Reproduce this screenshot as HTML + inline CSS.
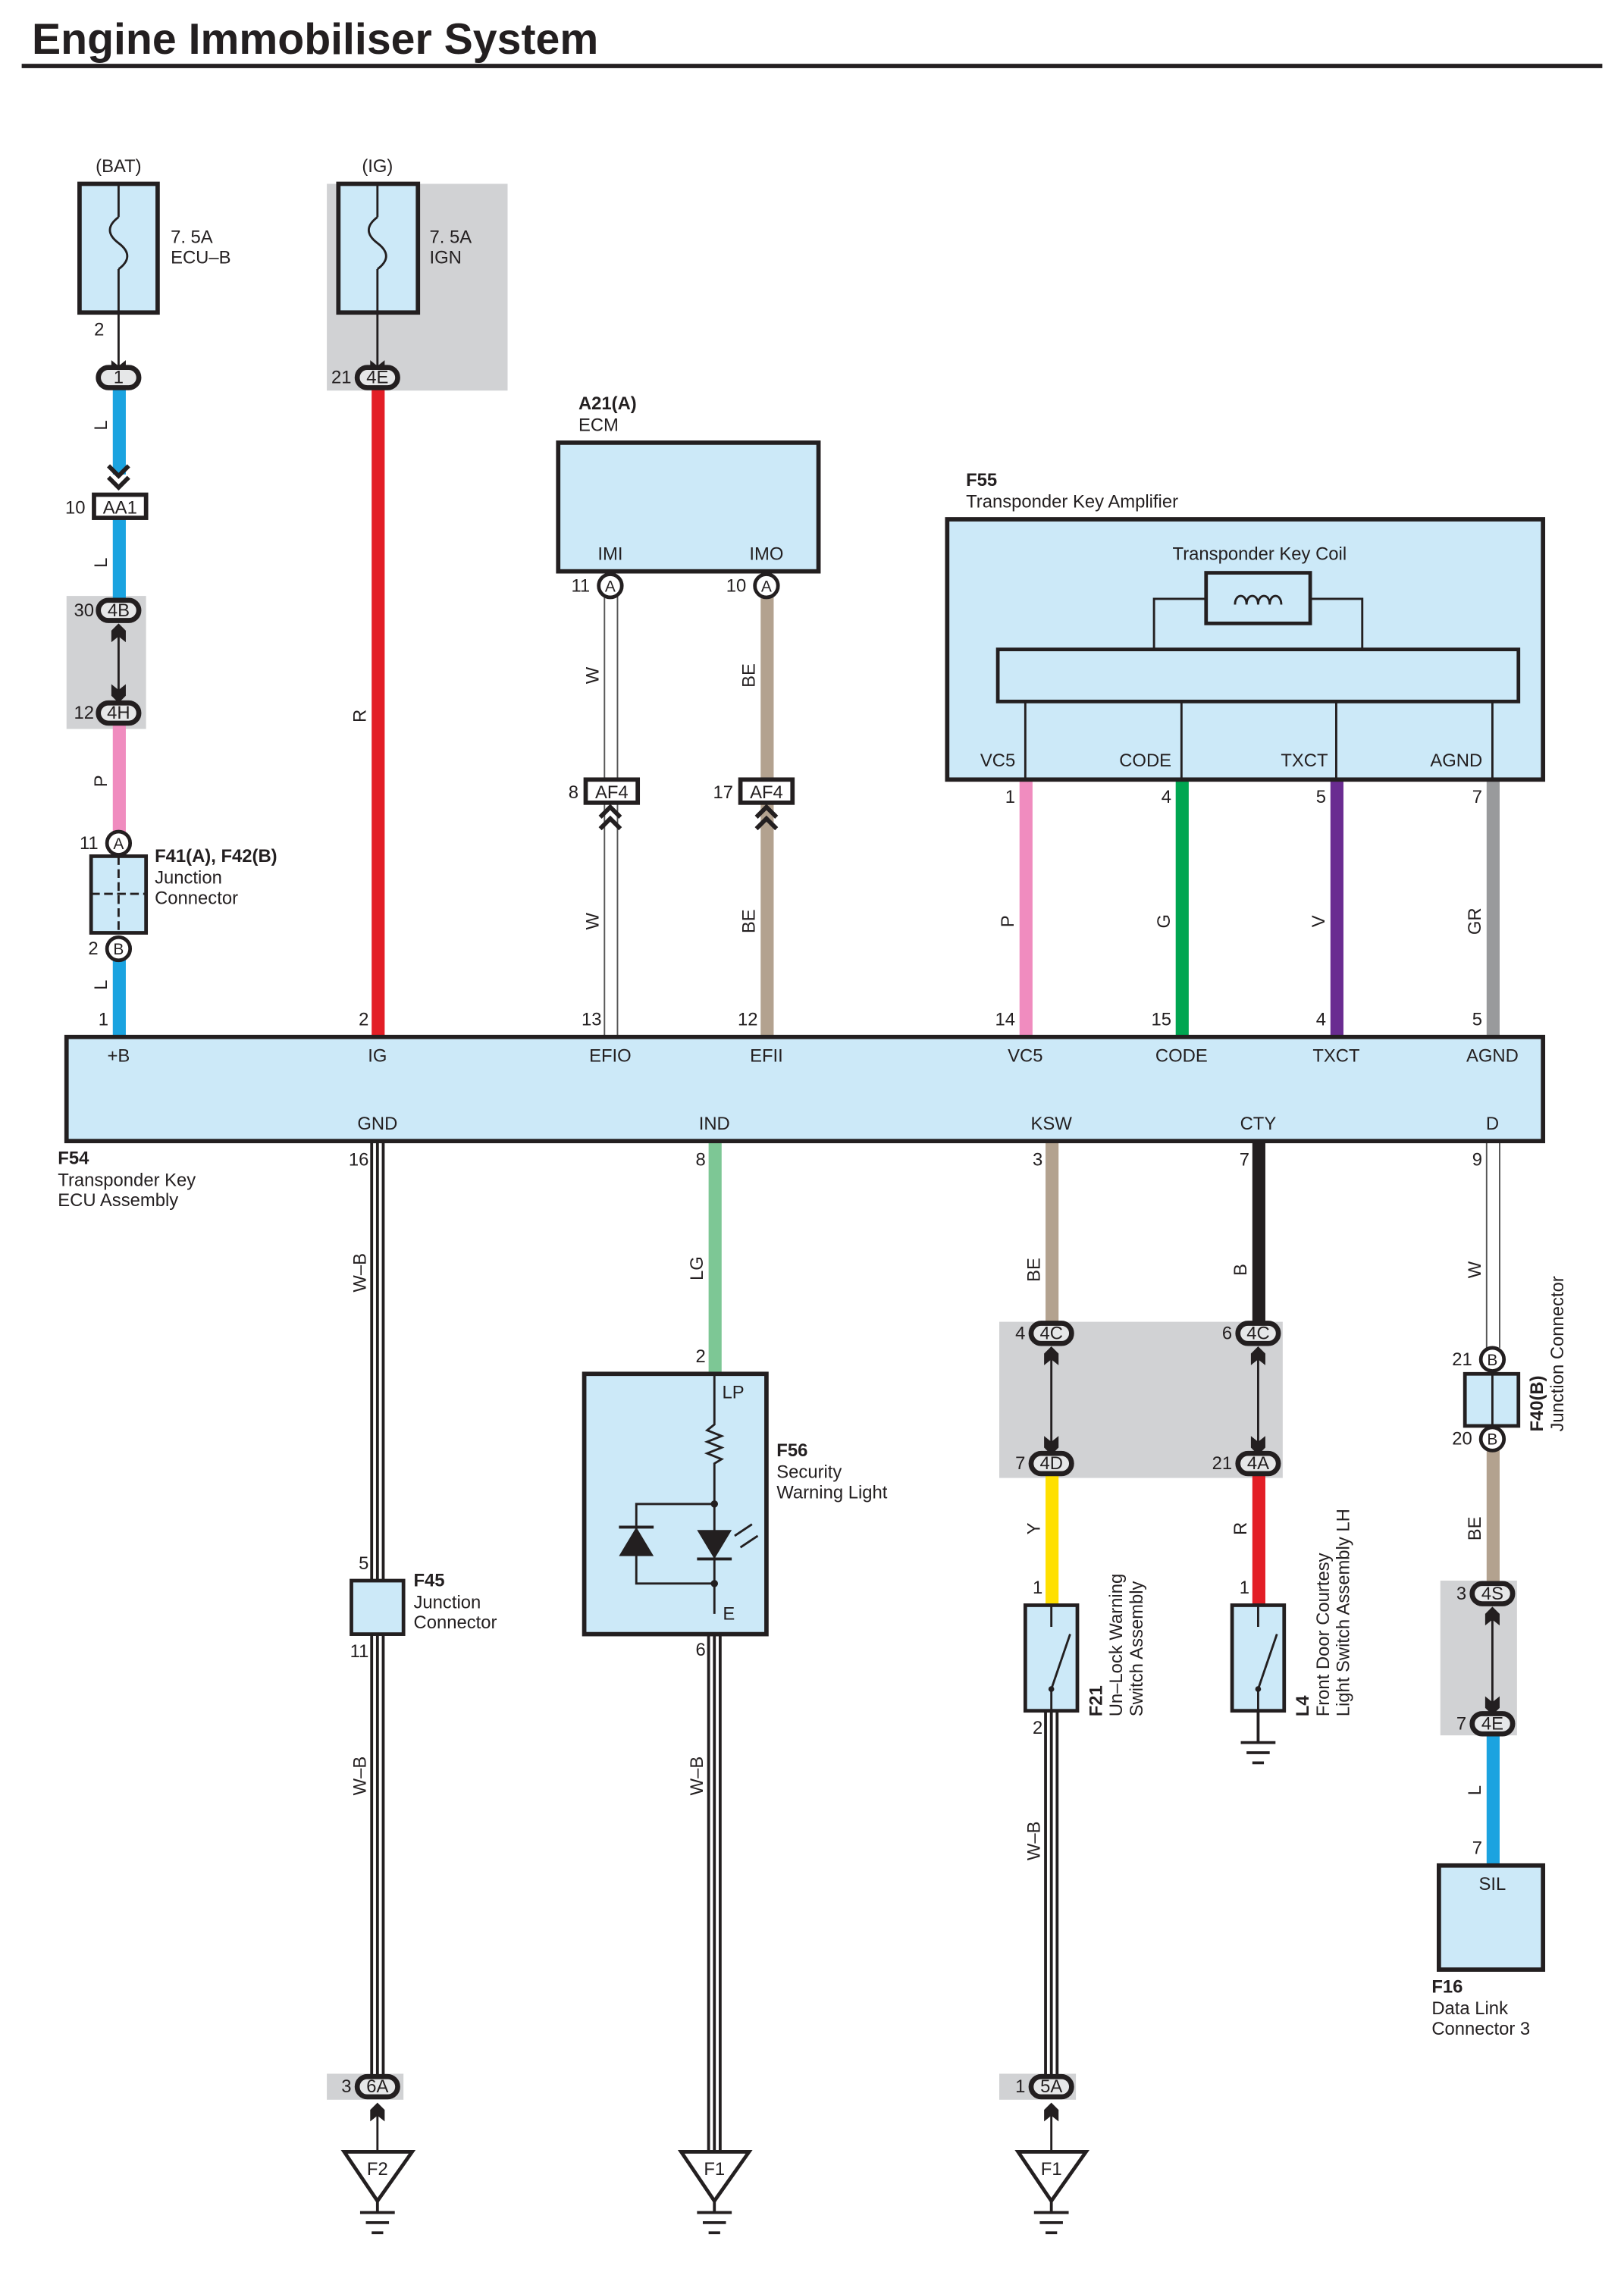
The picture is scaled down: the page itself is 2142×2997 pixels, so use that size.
<!DOCTYPE html>
<html><head><meta charset="utf-8"><style>
html,body{margin:0;padding:0;background:#fff;}
svg{display:block;}
text{font-family:"Liberation Sans",Arial,sans-serif;font-size:12.5px;fill:#231f20;}
.b{font-weight:bold;}
.c{text-anchor:middle;}
.r{text-anchor:end;}
.box{fill:#cce9f8;stroke:#231f20;stroke-width:3;}
.gb{fill:#d1d2d4;}
.ov{fill:#e6e7e8;stroke:#231f20;stroke-width:3.5;}
.ln{stroke:#231f20;stroke-width:1.5;fill:none;}
.cb{fill:#fff;stroke:#231f20;stroke-width:3;}
</style></head><body>
<svg width="2142" height="2997" viewBox="0 0 1123 1571" xmlns="http://www.w3.org/2000/svg">
<defs>
<path id="ah" d="M-5 -7 L0 -12 L5 -7 L5 1 L0 -3 L-5 1 Z" fill="#231f20"/>
</defs>
<text x="22" y="37" class="b" style="font-size:30px">Engine Immobiliser System</text>
<rect x="15" y="44" width="1093" height="3" fill="#231f20"/>

<!-- gray boxes -->
<rect class="gb" x="226" y="127" width="125" height="143"/>
<rect class="gb" x="46" y="412" width="55" height="92"/>
<rect class="gb" x="691" y="914" width="196" height="108"/>
<rect class="gb" x="996" y="1093" width="53" height="107"/>
<rect class="gb" x="226" y="1434" width="53" height="18"/>
<rect class="gb" x="691" y="1434" width="53" height="18"/>

<!-- wires -->
<rect x="78" y="268" width="9" height="60" fill="#1ba3e0"/>
<rect x="78" y="358" width="9" height="57" fill="#1ba3e0"/>
<rect x="78" y="500" width="9" height="76" fill="#f08cbf"/>
<rect x="78" y="663" width="9" height="54" fill="#1ba3e0"/>
<rect x="257" y="268" width="9" height="449" fill="#e31e26"/>
<path d="M418 412 V717 M427 412 V717" stroke="#555" stroke-width="1"/>
<rect x="526" y="412" width="9" height="305" fill="#b3a28f"/>
<rect x="705" y="539" width="9" height="178" fill="#f08cbf"/>
<rect x="813" y="539" width="9" height="178" fill="#00a651"/>
<rect x="920" y="539" width="9" height="178" fill="#6a2c91"/>
<rect x="1028" y="539" width="9" height="178" fill="#999a9c"/>
<!-- lower -->
<rect x="256" y="789" width="10" height="648" fill="#231f20"/><rect x="258" y="789" width="6" height="648" fill="#fff"/><rect x="260" y="789" width="2" height="648" fill="#231f20"/>
<rect x="490" y="789" width="9" height="161" fill="#7dc795"/>
<rect x="489" y="1130" width="10" height="358" fill="#231f20"/><rect x="491" y="1130" width="6" height="358" fill="#fff"/><rect x="493" y="1130" width="2" height="358" fill="#231f20"/>
<rect x="723" y="789" width="9" height="126" fill="#b3a28f"/>
<rect x="723" y="1020" width="9" height="90" fill="#ffe000"/>
<rect x="722" y="1183" width="10" height="254" fill="#231f20"/><rect x="724" y="1183" width="6" height="254" fill="#fff"/><rect x="726" y="1183" width="2" height="254" fill="#231f20"/>
<rect x="866" y="789" width="9" height="126" fill="#231f20"/>
<rect x="866" y="1020" width="9" height="90" fill="#e31e26"/>
<path d="M1028 789 V932 M1037 789 V932" stroke="#555" stroke-width="1"/>
<rect x="1028" y="1003" width="9" height="92" fill="#b3a28f"/>
<rect x="1028" y="1200" width="9" height="90" fill="#1ba3e0"/>

<!-- BAT fuse -->
<text x="82" y="119" class="c">(BAT)</text>
<rect class="box" x="55" y="127" width="54" height="89"/>
<line class="ln" x1="82" y1="127" x2="82" y2="150"/><path class="ln" d="M82 150 c-8 6 -8 12 0 18 c8 6 8 12 0 18"/><line class="ln" x1="82" y1="186" x2="82" y2="254"/>
<text x="118" y="168">7. 5A</text><text x="118" y="182">ECU–B</text>
<text x="72" y="232" class="r">2</text>
<use href="#ah" transform="translate(82 250) rotate(180)"/>
<rect class="ov" x="68" y="254" width="28" height="14" rx="7"/><text x="82" y="265" class="c">1</text>
<text x="74" y="294" transform="rotate(-90 74 294)" class="c">L</text>
<path class="ln" style="stroke-width:3" d="M75 322 L82 329 L89 322 M75 330 L82 337 L89 330"/>
<rect class="cb" x="65" y="342" width="36" height="16"/><text x="83" y="355" class="c">AA1</text><text x="59" y="355" class="r">10</text>
<text x="74" y="389" transform="rotate(-90 74 389)" class="c">L</text>
<rect class="ov" x="68" y="415" width="28" height="14" rx="7"/><text x="82" y="426" class="c">4B</text><text x="65" y="426" class="r">30</text>
<line class="ln" x1="82" y1="432" x2="82" y2="483"/><use href="#ah" transform="translate(82 443)"/><use href="#ah" transform="translate(82 474) rotate(180)"/>
<rect class="ov" x="68" y="486" width="28" height="14" rx="7"/><text x="82" y="497" class="c">4H</text><text x="65" y="497" class="r">12</text>
<text x="74" y="540" transform="rotate(-90 74 540)" class="c">P</text>
<circle class="ov" cx="82" cy="583" r="8" style="fill:#fff;stroke-width:2.5"/><text x="82" y="587" class="c" style="font-size:11px">A</text><text x="68" y="587" class="r">11</text>
<rect class="box" x="63" y="592" width="38" height="53" style="stroke-width:2.5"/>
<path d="M82 592 V645 M63 618 H101" stroke="#231f20" stroke-width="1.5" stroke-dasharray="6 3"/>
<circle class="ov" cx="82" cy="656" r="8" style="fill:#fff;stroke-width:2.5"/><text x="82" y="660" class="c" style="font-size:11px">B</text><text x="68" y="660" class="r">2</text>
<text x="74" y="681" transform="rotate(-90 74 681)" class="c">L</text>
<text x="75" y="709" class="r">1</text>
<text x="107" y="596" class="b">F41(A), F42(B)</text><text x="107" y="611">Junction</text><text x="107" y="625">Connector</text>

<!-- IG fuse -->
<text x="261" y="119" class="c">(IG)</text>
<rect class="box" x="234" y="127" width="55" height="89"/>
<line class="ln" x1="261" y1="127" x2="261" y2="150"/><path class="ln" d="M261 150 c-8 6 -8 12 0 18 c8 6 8 12 0 18"/><line class="ln" x1="261" y1="186" x2="261" y2="254"/>
<text x="297" y="168">7. 5A</text><text x="297" y="182">IGN</text>
<use href="#ah" transform="translate(261 250) rotate(180)"/>
<rect class="ov" x="247" y="254" width="28" height="14" rx="7"/><text x="261" y="265" class="c">4E</text><text x="243" y="265" class="r">21</text>
<text x="253" y="495" transform="rotate(-90 253 495)" class="c">R</text>
<text x="255" y="709" class="r">2</text>

<!-- ECM -->
<text x="400" y="283" class="b">A21(A)</text><text x="400" y="298">ECM</text>
<rect class="box" x="386" y="306" width="180" height="89"/>
<text x="422" y="387" class="c">IMI</text><text x="530" y="387" class="c">IMO</text>
<circle class="ov" cx="422" cy="405" r="8" style="fill:#fff;stroke-width:2.5"/><text x="422" y="409" class="c" style="font-size:11px">A</text><text x="408" y="409" class="r">11</text>
<circle class="ov" cx="530" cy="405" r="8" style="fill:#fff;stroke-width:2.5"/><text x="530" y="409" class="c" style="font-size:11px">A</text><text x="516" y="409" class="r">10</text>
<text x="414" y="467" transform="rotate(-90 414 467)" class="c">W</text>
<text x="522" y="467" transform="rotate(-90 522 467)" class="c">BE</text>
<rect class="cb" x="405" y="539" width="36" height="16"/><text x="423" y="552" class="c">AF4</text><text x="400" y="552" class="r">8</text>
<rect class="cb" x="512" y="539" width="36" height="16"/><text x="530" y="552" class="c">AF4</text><text x="507" y="552" class="r">17</text>
<path class="ln" style="stroke-width:3" d="M415 565 L422 558 L429 565 M415 573 L422 566 L429 573 M523 565 L530 558 L537 565 M523 573 L530 566 L537 573"/>
<text x="414" y="637" transform="rotate(-90 414 637)" class="c">W</text>
<text x="522" y="637" transform="rotate(-90 522 637)" class="c">BE</text>
<text x="416" y="709" class="r">13</text><text x="524" y="709" class="r">12</text>

<!-- F55 -->
<text x="668" y="336" class="b">F55</text><text x="668" y="351">Transponder Key Amplifier</text>
<rect class="box" x="655" y="359" width="412" height="180"/>
<text x="871" y="387" class="c">Transponder Key Coil</text>
<rect x="834" y="396" width="72" height="35" fill="#cce9f8" stroke="#231f20" stroke-width="2.5"/>
<path class="ln" d="M854 418 c0-8 8-8 8 0 c0-8 8-8 8 0 c0-8 8-8 8 0 c0-8 8-8 8 0"/>
<path class="ln" d="M834 414 H798 V449 M906 414 H942 V449"/>
<rect x="690" y="449" width="360" height="36" fill="#cce9f8" stroke="#231f20" stroke-width="2.5"/>
<path class="ln" d="M709 485 V539 M817 485 V539 M924 485 V539 M1032 485 V539"/>
<text x="690" y="530" class="c">VC5</text><text x="792" y="530" class="c">CODE</text><text x="902" y="530" class="c">TXCT</text><text x="1007" y="530" class="c">AGND</text>
<text x="702" y="555" class="r">1</text><text x="810" y="555" class="r">4</text><text x="917" y="555" class="r">5</text><text x="1025" y="555" class="r">7</text>
<text x="701" y="637" transform="rotate(-90 701 637)" class="c">P</text>
<text x="809" y="637" transform="rotate(-90 809 637)" class="c">G</text>
<text x="916" y="637" transform="rotate(-90 916 637)" class="c">V</text>
<text x="1024" y="637" transform="rotate(-90 1024 637)" class="c">GR</text>
<text x="702" y="709" class="r">14</text><text x="810" y="709" class="r">15</text><text x="917" y="709" class="r">4</text><text x="1025" y="709" class="r">5</text>

<!-- F54 -->
<rect class="box" x="46" y="717" width="1021" height="72"/>
<text x="82" y="734" class="c">+B</text><text x="261" y="734" class="c">IG</text><text x="422" y="734" class="c">EFIO</text><text x="530" y="734" class="c">EFII</text>
<text x="709" y="734" class="c">VC5</text><text x="817" y="734" class="c">CODE</text><text x="924" y="734" class="c">TXCT</text><text x="1032" y="734" class="c">AGND</text>
<text x="261" y="781" class="c">GND</text><text x="494" y="781" class="c">IND</text><text x="727" y="781" class="c">KSW</text><text x="870" y="781" class="c">CTY</text><text x="1032" y="781" class="c">D</text>
<text x="40" y="805" class="b">F54</text><text x="40" y="820">Transponder Key</text><text x="40" y="834">ECU Assembly</text>
<text x="255" y="806" class="r">16</text><text x="488" y="806" class="r">8</text><text x="721" y="806" class="r">3</text><text x="864" y="806" class="r">7</text><text x="1025" y="806" class="r">9</text>

<!-- GND column -->
<text x="253" y="880" transform="rotate(-90 253 880)" class="c">W–B</text>
<text x="255" y="1085" class="r">5</text>
<rect class="box" x="243" y="1093" width="36" height="37" style="stroke-width:2.5"/>
<text x="255" y="1146" class="r">11</text>
<text x="286" y="1097" class="b">F45</text><text x="286" y="1112">Junction</text><text x="286" y="1126">Connector</text>
<text x="253" y="1228" transform="rotate(-90 253 1228)" class="c">W–B</text>
<rect class="ov" x="247" y="1436" width="28" height="14" rx="7"/><text x="261" y="1447" class="c">6A</text><text x="243" y="1447" class="r">3</text>
<line class="ln" x1="261" y1="1455" x2="261" y2="1488"/><use href="#ah" transform="translate(261 1466)"/>
<path d="M238 1488 H285 L261 1522 Z" fill="#fff" stroke="#231f20" stroke-width="2.5"/><text x="261" y="1504" class="c">F2</text>
<path class="ln" style="stroke-width:2" d="M261 1522 V1530 M249 1530 H273 M253 1537 H269 M257 1544 H265"/>

<!-- IND -->
<text x="486" y="877" transform="rotate(-90 486 877)" class="c">LG</text>
<text x="488" y="942" class="r">2</text>
<rect class="box" x="404" y="950" width="126" height="180"/>
<text x="507" y="967" class="c">LP</text>
<path class="ln" d="M494 950 V985 l-5 4 l10 4 l-10 4 l10 4 l-10 4 l10 4 l-5 3 V1116"/>
<path class="ln" d="M494 1040 H440 V1095 H494"/>
<path d="M428 1076 H452 L440 1056 Z M482 1058 H506 L494 1078 Z" fill="#231f20"/>
<path class="ln" style="stroke-width:2" d="M428 1056 H452 M482 1078 H506"/>
<path class="ln" d="M508 1062 l12 -8 M512 1070 l12 -8"/>
<circle cx="494" cy="1040" r="2.5" fill="#231f20"/><circle cx="494" cy="1095" r="2.5" fill="#231f20"/>
<text x="504" y="1120" class="c">E</text>
<text x="488" y="1145" class="r">6</text>
<text x="537" y="1007" class="b">F56</text><text x="537" y="1022">Security</text><text x="537" y="1036">Warning Light</text>
<text x="486" y="1228" transform="rotate(-90 486 1228)" class="c">W–B</text>
<path d="M471 1488 H518 L494 1522 Z" fill="#fff" stroke="#231f20" stroke-width="2.5"/><text x="494" y="1504" class="c">F1</text>
<path class="ln" style="stroke-width:2" d="M494 1522 V1530 M482 1530 H506 M486 1537 H502 M490 1544 H498"/>

<!-- KSW -->
<text x="719" y="878" transform="rotate(-90 719 878)" class="c">BE</text>
<rect class="ov" x="713" y="915" width="28" height="14" rx="7"/><text x="727" y="926" class="c">4C</text><text x="709" y="926" class="r">4</text>
<line class="ln" x1="727" y1="932" x2="727" y2="1002"/><use href="#ah" transform="translate(727 943)"/><use href="#ah" transform="translate(727 994) rotate(180)"/>
<rect class="ov" x="713" y="1005" width="28" height="14" rx="7"/><text x="727" y="1016" class="c">4D</text><text x="709" y="1016" class="r">7</text>
<text x="719" y="1057" transform="rotate(-90 719 1057)" class="c">Y</text>
<text x="721" y="1102" class="r">1</text>
<rect class="box" x="709" y="1110" width="36" height="73" style="stroke-width:2.5"/>
<path class="ln" d="M727 1110 V1125 M727 1168 V1183 M727 1168 L740 1130"/><circle cx="727" cy="1168" r="2" fill="#231f20"/>
<text x="721" y="1199" class="r">2</text>
<g transform="rotate(-90 0 0)">
<text x="-1187" y="762" class="b">F21</text><text x="-1187" y="776">Un–Lock Warning</text><text x="-1187" y="790">Switch Assembly</text>
<text x="-1187" y="905" class="b">L4</text><text x="-1187" y="919">Front Door Courtesy</text><text x="-1187" y="933">Light Switch Assembly LH</text>
<text x="-990" y="1067" class="b">F40(B)</text><text x="-990" y="1081">Junction Connector</text>
</g>
<text x="719" y="1273" transform="rotate(-90 719 1273)" class="c">W–B</text>
<rect class="ov" x="713" y="1436" width="28" height="14" rx="7"/><text x="727" y="1447" class="c">5A</text><text x="709" y="1447" class="r">1</text>
<line class="ln" x1="727" y1="1455" x2="727" y2="1488"/><use href="#ah" transform="translate(727 1466)"/>
<path d="M704 1488 H751 L727 1522 Z" fill="#fff" stroke="#231f20" stroke-width="2.5"/><text x="727" y="1504" class="c">F1</text>
<path class="ln" style="stroke-width:2" d="M727 1522 V1530 M715 1530 H739 M719 1537 H735 M723 1544 H731"/>

<!-- CTY -->
<text x="862" y="878" transform="rotate(-90 862 878)" class="c">B</text>
<rect class="ov" x="856" y="915" width="28" height="14" rx="7"/><text x="870" y="926" class="c">4C</text><text x="852" y="926" class="r">6</text>
<line class="ln" x1="870" y1="932" x2="870" y2="1002"/><use href="#ah" transform="translate(870 943)"/><use href="#ah" transform="translate(870 994) rotate(180)"/>
<rect class="ov" x="856" y="1005" width="28" height="14" rx="7"/><text x="870" y="1016" class="c">4A</text><text x="852" y="1016" class="r">21</text>
<text x="862" y="1057" transform="rotate(-90 862 1057)" class="c">R</text>
<text x="864" y="1102" class="r">1</text>
<rect class="box" x="852" y="1110" width="36" height="73" style="stroke-width:2.5"/>
<path class="ln" d="M870 1110 V1125 M870 1168 V1183 M870 1168 L883 1130"/><circle cx="870" cy="1168" r="2" fill="#231f20"/>
<path class="ln" style="stroke-width:2" d="M870 1183 V1205 M858 1205 H882 M862 1212 H878 M866 1219 H874"/>

<!-- D -->
<text x="1024" y="878" transform="rotate(-90 1024 878)" class="c">W</text>
<circle class="ov" cx="1032" cy="940" r="8" style="fill:#fff;stroke-width:2.5"/><text x="1032" y="944" class="c" style="font-size:11px">B</text><text x="1018" y="944" class="r">21</text>
<rect class="box" x="1013" y="950" width="37" height="36" style="stroke-width:2.5"/><line class="ln" x1="1032" y1="950" x2="1032" y2="986"/>
<circle class="ov" cx="1032" cy="995" r="8" style="fill:#fff;stroke-width:2.5"/><text x="1032" y="999" class="c" style="font-size:11px">B</text><text x="1018" y="999" class="r">20</text>
<text x="1024" y="1057" transform="rotate(-90 1024 1057)" class="c">BE</text>
<rect class="ov" x="1018" y="1095" width="28" height="14" rx="7"/><text x="1032" y="1106" class="c">4S</text><text x="1014" y="1106" class="r">3</text>
<line class="ln" x1="1032" y1="1112" x2="1032" y2="1182"/><use href="#ah" transform="translate(1032 1123)"/><use href="#ah" transform="translate(1032 1174) rotate(180)"/>
<rect class="ov" x="1018" y="1185" width="28" height="14" rx="7"/><text x="1032" y="1196" class="c">4E</text><text x="1014" y="1196" class="r">7</text>
<text x="1024" y="1238" transform="rotate(-90 1024 1238)" class="c">L</text>
<text x="1025" y="1282" class="r">7</text>
<rect class="box" x="995" y="1290" width="72" height="72"/>
<text x="1032" y="1307" class="c">SIL</text>
<text x="990" y="1378" class="b">F16</text><text x="990" y="1393">Data Link</text><text x="990" y="1407">Connector 3</text>
</svg>
</body></html>
